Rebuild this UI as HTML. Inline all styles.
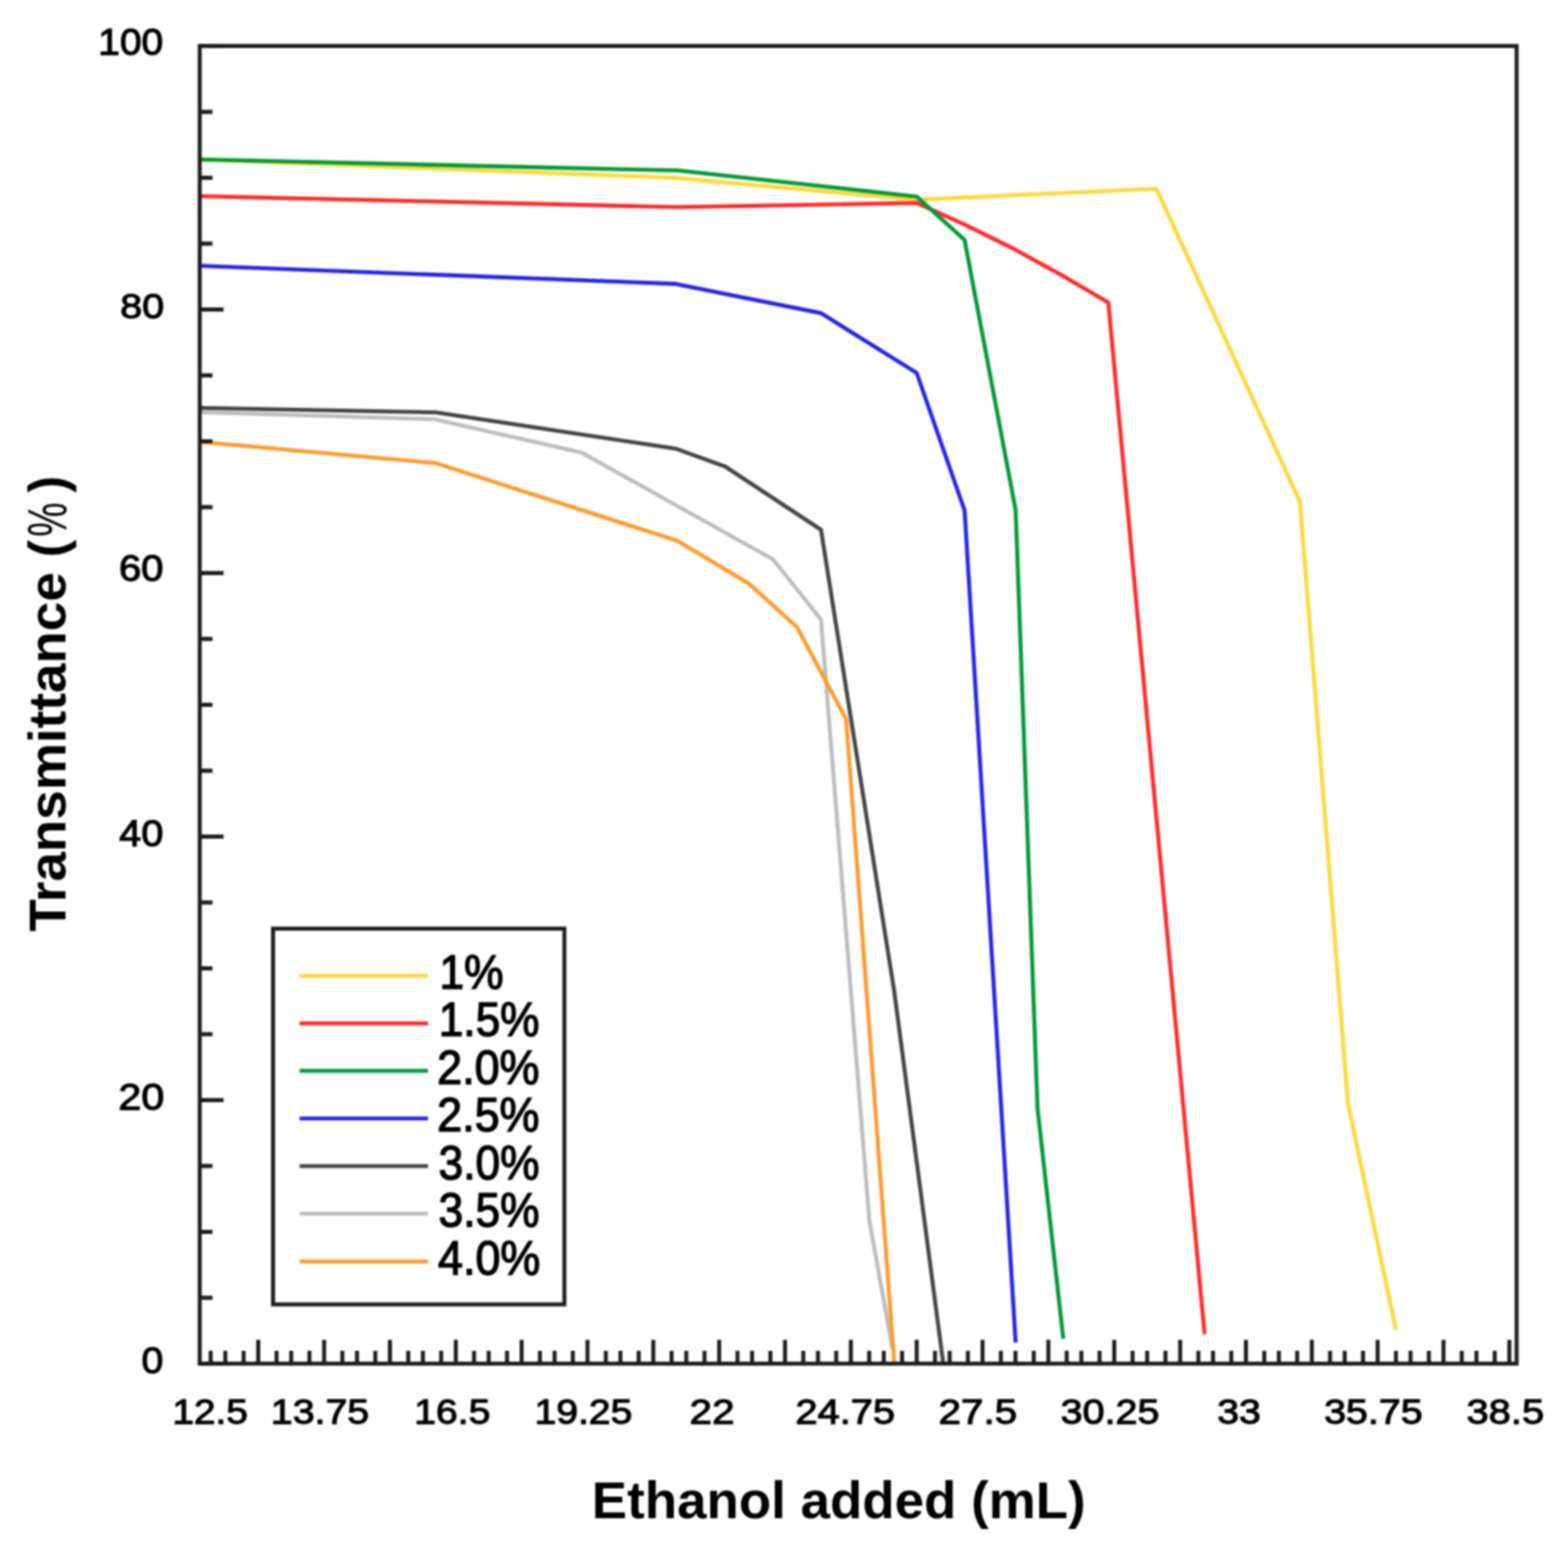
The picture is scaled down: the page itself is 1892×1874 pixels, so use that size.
<!DOCTYPE html>
<html><head><meta charset="utf-8"><title>Transmittance vs Ethanol added</title>
<style>
html,body{margin:0;padding:0;background:#fff;}
body{width:1892px;height:1874px;overflow:hidden;}
svg{display:block;filter:blur(0.9px);}
text{font-family:"Liberation Sans",Arial,sans-serif;fill:#000;}
.tl{font-size:44px;stroke:#000;stroke-width:1.3px;}
.lg{font-size:57px;stroke:#000;stroke-width:1.6px;}
.ti{font-size:61px;font-weight:bold;}
.pc{font-size:50px;font-weight:normal;}
</style></head>
<body>
<svg width="1892" height="1874" viewBox="0 0 1892 1874">
<rect width="100%" height="100%" fill="#fff"/>
<g fill="none" stroke-width="4.8" stroke-linejoin="miter" stroke-linecap="butt">
<polyline stroke="#ffd83c" points="239.4,192.5 812.3,214.3 1106.1,241 1395.3,227.6 1568.5,605.4 1626.5,1332 1684.5,1605"/>
<polyline stroke="#ff2a2a" points="239.4,236.6 817.2,249.9 1106.1,244.9 1163.9,270.8 1221.7,299.5 1279.5,331.2 1337.3,365 1453.5,1610"/>
<polyline stroke="#009933" points="239.4,192.4 817.6,205.7 1106.1,237.2 1163.9,289.5 1225.5,615.5 1251.9,1337.3 1283,1615.5"/>
<polyline stroke="#2424e6" points="239.4,320.6 813.9,342.5 990.6,377.8 1106.1,450 1163.9,616 1225.5,1620"/>
<polyline stroke="#444444" points="239.4,492.2 526,497.7 815,541.3 875,563 990.6,639.2 1079,1196 1138,1644"/>
<polyline stroke="#bdbdbd" points="239.4,497.3 524,505.9 701.7,546.1 932.8,675 990.6,747.5 1049,1473 1077,1628"/>
<polyline stroke="#ff9a2e" points="239.4,533.1 525.6,558.8 817.2,652.5 903.9,704.4 961.7,756.7 1021,868 1079,1644"/>
</g>
<path d="M241 55.5H269.7M241 135H256.4M241 214.5H256.4M241 294H256.4M241 373.5H269.7M241 453H256.4M241 532.5H256.4M241 612H256.4M241 691.5H269.7M241 771H256.4M241 850.5H256.4M241 930H256.4M241 1009.5H269.7M241 1089H256.4M241 1168.5H256.4M241 1248H256.4M241 1327.5H269.7M241 1407H256.4M241 1486.5H256.4M241 1566H256.4M241 1645.5H269.7M254.2 1645.5V1630.1M271.9 1645.5V1630.1M294 1645.5V1630.1M311.6 1645.5V1616.8M333.7 1645.5V1630.1M351.4 1645.5V1630.1M373.4 1645.5V1630.1M391.1 1645.5V1616.8M413.1 1645.5V1630.1M430.8 1645.5V1630.1M452.9 1645.5V1630.1M470.5 1645.5V1616.8M492.6 1645.5V1630.1M510.3 1645.5V1630.1M532.3 1645.5V1630.1M550 1645.5V1616.8M572 1645.5V1630.1M589.7 1645.5V1630.1M611.8 1645.5V1630.1M629.4 1645.5V1616.8M651.5 1645.5V1630.1M669.2 1645.5V1630.1M691.2 1645.5V1630.1M708.9 1645.5V1616.8M731 1645.5V1630.1M748.6 1645.5V1630.1M770.7 1645.5V1630.1M788.3 1645.5V1616.8M810.4 1645.5V1630.1M828.1 1645.5V1630.1M850.1 1645.5V1630.1M867.8 1645.5V1616.8M889.9 1645.5V1630.1M907.5 1645.5V1630.1M929.6 1645.5V1630.1M947.2 1645.5V1616.8M969.3 1645.5V1630.1M987 1645.5V1630.1M1009 1645.5V1630.1M1026.7 1645.5V1616.8M1048.8 1645.5V1630.1M1066.4 1645.5V1630.1M1088.5 1645.5V1630.1M1106.1 1645.5V1616.8M1128.2 1645.5V1630.1M1145.9 1645.5V1630.1M1167.9 1645.5V1630.1M1185.6 1645.5V1616.8M1207.7 1645.5V1630.1M1225.3 1645.5V1630.1M1247.4 1645.5V1630.1M1265 1645.5V1616.8M1287.1 1645.5V1630.1M1304.8 1645.5V1630.1M1326.8 1645.5V1630.1M1344.5 1645.5V1616.8M1366.6 1645.5V1630.1M1384.2 1645.5V1630.1M1406.3 1645.5V1630.1M1424 1645.5V1616.8M1446 1645.5V1630.1M1463.7 1645.5V1630.1M1485.7 1645.5V1630.1M1503.4 1645.5V1616.8M1525.5 1645.5V1630.1M1543.1 1645.5V1630.1M1565.2 1645.5V1630.1M1582.9 1645.5V1616.8M1604.9 1645.5V1630.1M1622.6 1645.5V1630.1M1644.7 1645.5V1630.1M1662.3 1645.5V1616.8M1684.4 1645.5V1630.1M1702 1645.5V1630.1M1724.1 1645.5V1630.1M1741.8 1645.5V1616.8M1763.8 1645.5V1630.1M1781.5 1645.5V1630.1M1803.6 1645.5V1630.1M1821.2 1645.5V1616.8" stroke="#1c1c1c" stroke-width="4.8" fill="none"/>
<rect x="241" y="55.5" width="1589" height="1590" fill="none" stroke="#1c1c1c" stroke-width="4.8"/>
<rect x="329.5" y="1120.6" width="351.5" height="453.4" fill="#fff" stroke="#1c1c1c" stroke-width="4.8"/>
<line x1="361.5" x2="516.5" y1="1177.3" y2="1177.3" stroke="#ffd83c" stroke-width="4.8"/>
<line x1="361.5" x2="516.5" y1="1234.8" y2="1234.8" stroke="#ff2a2a" stroke-width="4.8"/>
<line x1="361.5" x2="516.5" y1="1292.2" y2="1292.2" stroke="#009933" stroke-width="4.8"/>
<line x1="361.5" x2="516.5" y1="1349.7" y2="1349.7" stroke="#2424e6" stroke-width="4.8"/>
<line x1="361.5" x2="516.5" y1="1407.2" y2="1407.2" stroke="#444444" stroke-width="4.8"/>
<line x1="361.5" x2="516.5" y1="1464.7" y2="1464.7" stroke="#bdbdbd" stroke-width="4.8"/>
<line x1="361.5" x2="516.5" y1="1522.1" y2="1522.1" stroke="#ff9a2e" stroke-width="4.8"/>
<text id="y100" class="tl" transform="translate(118.51 65.73) scale(1.0685 0.9882)">100</text>
<text id="y80" class="tl" transform="translate(144.92 383.86) scale(1.0870 0.9770)">80</text>
<text id="y60" class="tl" transform="translate(143.43 701.38) scale(1.1001 1.0001)">60</text>
<text id="y40" class="tl" transform="translate(143.87 1021.30) scale(1.0886 1.0175)">40</text>
<text id="y20" class="tl" transform="translate(142.69 1339.35) scale(1.1346 1.0133)">20</text>
<text id="y0" class="tl" transform="translate(170.77 1656.78) scale(1.0744 1.0133)">0</text>
<text id="x12_5" class="tl" transform="translate(207.92 1718.30) scale(1.0664 0.9846)">12.5</text>
<text id="x13_75" class="tl" transform="translate(326.74 1718.30) scale(1.0786 0.9846)">13.75</text>
<text id="x16_5" class="tl" transform="translate(499.77 1718.30) scale(1.0737 0.9846)">16.5</text>
<text id="x19_25" class="tl" transform="translate(644.93 1718.30) scale(1.0727 0.9846)">19.25</text>
<text id="x22" class="tl" transform="translate(832.00 1718.30) scale(1.1099 0.9846)">22</text>
<text id="x24_75" class="tl" transform="translate(959.79 1718.30) scale(1.0929 0.9846)">24.75</text>
<text id="x27_5" class="tl" transform="translate(1132.48 1718.30) scale(1.1072 0.9846)">27.5</text>
<text id="x30_25" class="tl" transform="translate(1279.79 1718.30) scale(1.0838 0.9846)">30.25</text>
<text id="x33" class="tl" transform="translate(1468.75 1718.30) scale(1.0753 0.9846)">33</text>
<text id="x35_75" class="tl" transform="translate(1597.65 1718.30) scale(1.0807 0.9846)">35.75</text>
<text id="x38_5" class="tl" transform="translate(1769.60 1718.30) scale(1.0938 0.9846)">38.5</text>
<text id="lg0" class="lg" transform="translate(530.32 1193.06) scale(0.9384 1.0083)">1%</text>
<text id="lg1" class="lg" transform="translate(529.46 1250.08) scale(0.9354 1.0083)">1.5%</text>
<text id="lg2" class="lg" transform="translate(527.61 1308.05) scale(0.9492 1.0083)">2.0%</text>
<text id="lg3" class="lg" transform="translate(527.61 1365.06) scale(0.9492 1.0083)">2.5%</text>
<text id="lg4" class="lg" transform="translate(529.33 1423.01) scale(0.9365 1.0083)">3.0%</text>
<text id="lg5" class="lg" transform="translate(529.33 1480.01) scale(0.9365 1.0083)">3.5%</text>
<text id="lg6" class="lg" transform="translate(528.55 1538.00) scale(0.9497 1.0077)">4.0%</text>
<text id="tx" class="ti" transform="translate(714.11 1831.66) scale(1.0470 1.0461)">Ethanol added (mL)</text>
<text id="ty1" class="ti" transform="translate(78.79 1124.23) rotate(-90) scale(1.0489 1.0369)">Transmittance (</text>
<text id="ty2" class="pc" transform="translate(79.95 647.64) rotate(-90) scale(0.9314 1.3180)">%</text>
<text id="ty3" class="ti" transform="translate(78.87 594.47) rotate(-90) scale(1.0002 1.0304)">)</text>
</svg>
</body></html>
